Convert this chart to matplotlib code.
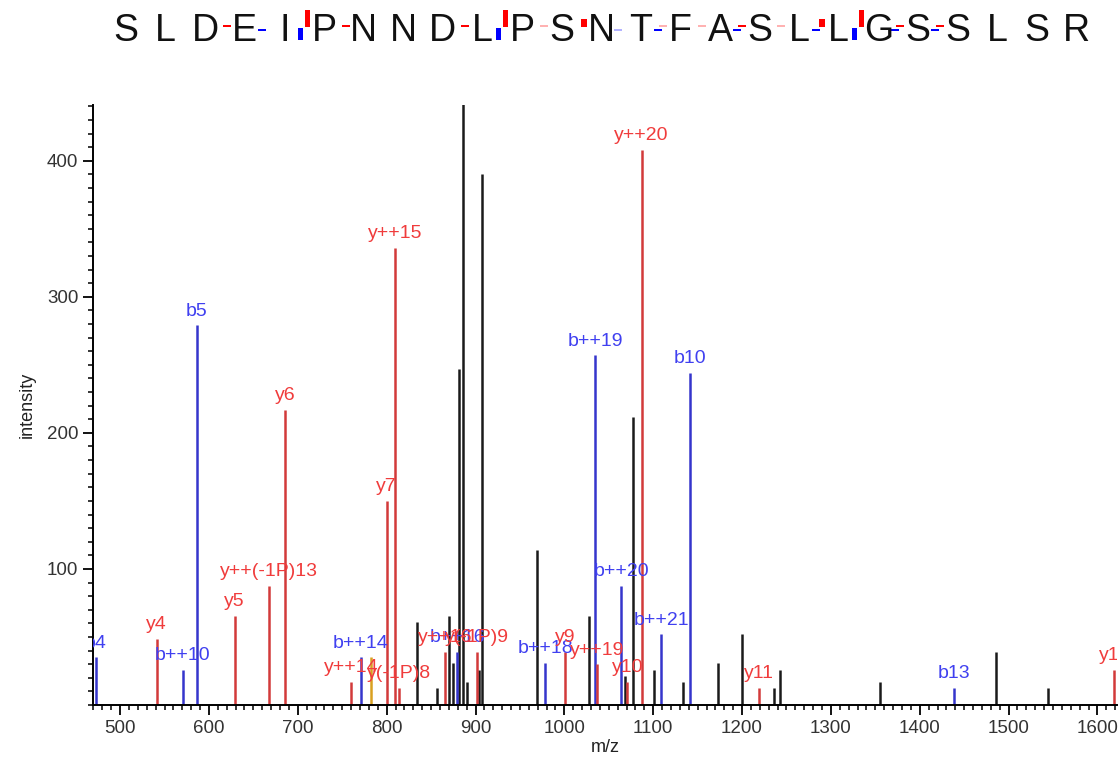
import numpy as np
import matplotlib as mpl
mpl.use("Agg")
import matplotlib.pyplot as plt
from matplotlib.ticker import MultipleLocator

plt.rcParams['font.family'] = ['Liberation Sans', 'DejaVu Sans']

# Peptide sequence and fragment coverage (0 none, 1 faint, 2 dash, 3 block, 4 bar)
peptide = "SLDEIPNNDLPSNTFASLLGSSLSR"
b_cov = [0, 0, 0, 2, 4, 0, 0, 0, 0, 4, 0, 0, 1, 2, 0, 2, 0, 2, 4, 2, 2, 0, 0, 0]
y_cov = [0, 0, 2, 0, 4, 2, 0, 0, 2, 4, 1, 3, 0, 1, 1, 2, 1, 3, 4, 2, 2, 0, 0, 0]

# b ions
b_mz = [472.4, 570.5, 586.2, 771.0, 879.4, 978.6, 1035.0, 1064.0, 1109.0, 1141.0, 1438.6]
b_int = [35, 26, 279, 35, 39, 31, 257, 87.5, 52, 244, 12.5]
b_lab = ["b4", "b++10", "b5", "b++14", "b++16", "b++18", "b++19", "b++20",
         "b++21", "b10", "b13"]

# y ions
y_mz = [541.0, 629.0, 667.5, 685.5, 760.0, 800.0, 809.5, 813.8, 866.0, 902.0,
        1001.0, 1036.5, 1071.0, 1087.0, 1218.8, 1619.0]
y_int = [48.5, 65.5, 87.5, 217, 17, 150, 336, 12.5, 39, 39, 39, 30, 17, 408, 12.5, 26]
y_lab = ["y4", "y5", "y++(-1P)13", "y6", "y++14", "y7", "y++15", "y(-1P)8",
         "y++16", "y(-1P)9", "y9", "y++19", "y10", "y++20", "y11", "y12"]

# other matched peak (neutral loss)
o_mz = [782.5]
o_int = [35]

# unassigned peaks
u_mz = [834, 856.7, 870, 874.8, 881.5, 885.8, 890.7, 904, 907, 969.5, 1028,
        1068.5, 1077.7, 1100.5, 1134, 1172.5, 1199.5, 1235.6, 1242.4, 1355,
        1485.8, 1544.5]
u_int = [61, 12.5, 65.5, 31, 247, 445, 17, 26, 390, 114, 65.5, 21, 212, 26, 17,
         31, 52, 12.5, 26, 17, 39, 12.5]

RED = "#d23a3a"
RED_T = "#f03c3c"
BLUE = "#3535cc"
BLUE_T = "#4040f0"

fig = plt.figure(figsize=(11.2, 7.6), dpi=100)

# --- sequence header (pixel units) ---
hx = fig.add_axes([0, 1 - 60 / 760, 1, 60 / 760])
hx.set_xlim(0, 1120)
hx.set_ylim(60, 0)
hx.axis('off')
x0, dx = 126, 39.6
pos = x0 + np.arange(len(peptide)) * dx
for p, aa in zip(pos, peptide):
    hx.text(p, 31, aa, ha='center', va='center', fontsize=27, color='#111111')
gaps = pos[:-1] + dx / 2
for g, bv, yv in zip(gaps, b_cov, y_cov):
    if bv == 4:
        hx.bar(g - 4, 12, bottom=28, width=5, color='#0000ff')
    elif bv > 0:
        hx.bar(g - 3, 2.5, bottom=28.5, width=8, color='#0000ff',
               alpha=0.3 if bv == 1 else 1)
    if yv == 4:
        hx.bar(g + 3, 17, bottom=10, width=5, color='#ff0000')
    elif yv == 3:
        hx.bar(g + 3, 8, bottom=19, width=6, color='#ff0000')
    elif yv > 0:
        hx.bar(g + 2, 2.5, bottom=24.5, width=8, color='#ff0000',
               alpha=0.3 if yv == 1 else 1)

# --- spectrum ---
ax = fig.add_axes([93 / 1120, 55 / 760, 1024 / 1120, 600 / 760])
ax.vlines(u_mz, 0, u_int, colors='#1a1a1a', lw=1.8)
ax.vlines(o_mz, 0, o_int, colors='#d9a020', lw=1.8)
ax.vlines(b_mz, 0, b_int, colors=BLUE, lw=1.8)
ax.vlines(y_mz, 0, y_int, colors=RED, lw=1.8)

for m, h, lab in zip(b_mz, b_int, b_lab):
    ax.annotate(lab, (m, h), xytext=(0, 4), textcoords='offset points',
                ha='center', va='bottom', fontsize=14, color=BLUE_T, clip_on=True)
for m, h, lab in zip(y_mz, y_int, y_lab):
    ax.annotate(lab, (m, h), xytext=(0, 4), textcoords='offset points',
                ha='center', va='bottom', fontsize=14, color=RED_T, clip_on=True)

ax.set_xlim(469.5, 1622)
ax.set_ylim(0, 441)
ax.xaxis.set_major_locator(MultipleLocator(100))
ax.xaxis.set_minor_locator(MultipleLocator(10))
ax.set_yticks([100, 200, 300, 400])
ax.yaxis.set_minor_locator(MultipleLocator(10))
for s in ['top', 'right']:
    ax.spines[s].set_visible(False)
for s in ['left', 'bottom']:
    ax.spines[s].set_linewidth(1.4)
ax.tick_params(which='major', length=7, width=1.3, labelsize=13.5,
               labelcolor='#333333')
ax.tick_params(which='minor', length=3.5, width=1.1)
ax.set_xlabel('m/z', fontsize=13, color='#222222', labelpad=2)
ax.set_ylabel('intensity', fontsize=13, color='#222222', labelpad=8)

fig.savefig('out.png', dpi=100)
